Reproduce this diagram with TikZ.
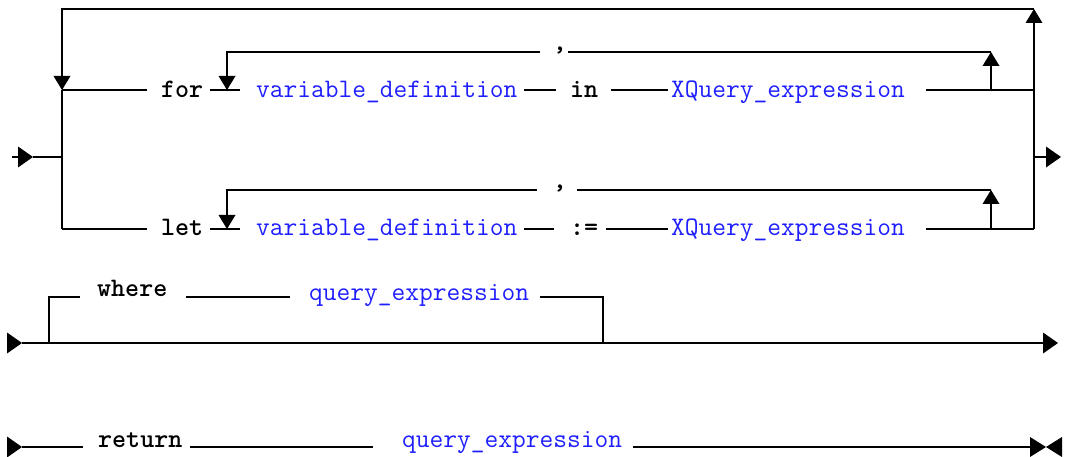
\documentclass[tikz,border=0pt]{standalone}
\usetikzlibrary{arrows.meta}
\definecolor{ntblue}{RGB}{30,30,255}
\tikzset{
  rail/.style={line width=1.9pt, line cap=butt, line join=miter},
  kw/.style={font=\ttfamily\bfseries\fontsize{26.7}{26}\selectfont, inner sep=0pt, anchor=base west},
  nt/.style={font=\ttfamily\fontsize{26.7}{26}\selectfont, text=ntblue, inner sep=0pt, anchor=base west},
  sepchar/.style={font=\ttfamily\bfseries\fontsize{26.7}{26}\selectfont, inner sep=0pt, anchor=base},
  vtip/.style={-{Triangle[length=14pt,width=17pt,line width=0pt]}},
  htip/.style={-{Triangle[length=15pt,width=21pt,line width=0pt]}}
}
\begin{document}
\begin{tikzpicture}[x=1pt,y=-1pt]
\useasboundingbox (0,0) rectangle (1065,457);

% ---------- for / let clause ----------
\coordinate (in0) at (12,157);
\coordinate (in1) at (33,157);
\coordinate (fork) at (62,157);
\coordinate (forL) at (62,90);
\coordinate (letL) at (62,229);
\coordinate (topL) at (62,9);
\coordinate (topR) at (1034,9);
\coordinate (forR) at (1034,90);
\coordinate (letR) at (1034,229);
\coordinate (joinR) at (1034,157);
\coordinate (out) at (1061,157);

% for row
\node[kw] (for) at (161,97.5) {for};
\node[nt] (vdf) at (256,97.5) {variable\_definition};
\node[kw] (in) at (570,97.5) {in};
\node[nt] (xqf) at (671,97.5) {XQuery\_expression};
\node[sepchar] (cf) at (560,51) {,};

\coordinate (f1) at (147,90);
\coordinate (f2) at (210,90);
\coordinate (f3) at (240,90);
\coordinate (f4) at (524,90);
\coordinate (f5) at (556,90);
\coordinate (f6) at (611,90);
\coordinate (f7) at (668,90);
\coordinate (f8) at (926,90);
\coordinate (fu) at (991,90);
\coordinate (fuT) at (991,52);
\coordinate (fc2) at (568,52);
\coordinate (fc1) at (540,52);
\coordinate (fdT) at (227,52);
\coordinate (fd) at (227,90);

% let row
\node[kw] (let) at (161,236) {let};
\node[nt] (vdl) at (256,236) {variable\_definition};
\node[kw] (assign) at (570,236) {:=};
\node[nt] (xql) at (671,236) {XQuery\_expression};
\node[sepchar] (cl) at (560,189) {,};

\coordinate (l1) at (147,229);
\coordinate (l2) at (210,229);
\coordinate (l3) at (240,229);
\coordinate (l4) at (524,229);
\coordinate (l5) at (554,229);
\coordinate (l6) at (606,229);
\coordinate (l7) at (668,229);
\coordinate (l8) at (926,229);
\coordinate (lu) at (991,229);
\coordinate (luT) at (991,190);
\coordinate (lc2) at (577,190);
\coordinate (lc1) at (537,190);
\coordinate (ldT) at (227,190);
\coordinate (ld) at (227,229);

% entry and branch
\draw[rail, htip] (in0) -- (in1);
\draw[rail] (in1) -- (fork);
\draw[rail] (forL) -- (letL);

% for row rails
\draw[rail] (forL) -- (f1);
\draw[rail] (f2) -- (f3);
\draw[rail] (f4) -- (f5);
\draw[rail] (f6) -- (f7);
\draw[rail] (f8) -- (forR);
\draw[rail, vtip] (fu) -- (fuT);
\draw[rail] (fuT) -- (fc2);
\draw[rail, vtip] (fc1) -- (fdT) -- (fd);

% let row rails
\draw[rail] (letL) -- (l1);
\draw[rail] (l2) -- (l3);
\draw[rail] (l4) -- (l5);
\draw[rail] (l6) -- (l7);
\draw[rail] (l8) -- (letR);
\draw[rail, vtip] (lu) -- (luT);
\draw[rail] (luT) -- (lc2);
\draw[rail, vtip] (lc1) -- (ldT) -- (ld);

% outer repetition loop and exit
\draw[rail, vtip] (letR) -- (topR);
\draw[rail, vtip] (topR) -- (topL) -- (forL);
\draw[rail, htip] (joinR) -- (out);

% ---------- where clause ----------
\coordinate (w0) at (7,343);
\coordinate (w1) at (22,343);
\coordinate (wEnd) at (1058,343);
\coordinate (wa) at (49,343);
\coordinate (wb) at (49,297);
\coordinate (wc) at (80,297);
\coordinate (wd) at (186,297);
\coordinate (we) at (290,297);
\coordinate (wf) at (540,297);
\coordinate (wg) at (603,297);
\coordinate (wh) at (603,343);

\node[kw] (where) at (97,296.5) {where};
\node[nt] (qw) at (309,300) {query\_expression};

\draw[rail, htip] (w0) -- (w1);
\draw[rail, htip] (w1) -- (wEnd);
\draw[rail] (wa) -- (wb) -- (wc);
\draw[rail] (wd) -- (we);
\draw[rail] (wf) -- (wg) -- (wh);

% ---------- return clause ----------
\coordinate (r0) at (7,447);
\coordinate (r1) at (22,447);
\coordinate (r2) at (83,447);
\coordinate (r3) at (190,447);
\coordinate (r4) at (373,447);
\coordinate (r5) at (633,447);
\coordinate (r6) at (1046,447);
\coordinate (r7) at (1062,447);

\node[kw] (return) at (98,447) {return};
\node[nt] (qr) at (402,447) {query\_expression};

\draw[rail, htip] (r0) -- (r1);
\draw[rail] (r1) -- (r2);
\draw[rail] (r3) -- (r4);
\draw[rail, -{Triangle[length=16pt,width=20pt,line width=0pt]}] (r5) -- (r6);
\draw[rail, -{Triangle[length=16pt,width=20pt,line width=0pt]}] (r7) -- (r6);
\end{tikzpicture}
\end{document}
